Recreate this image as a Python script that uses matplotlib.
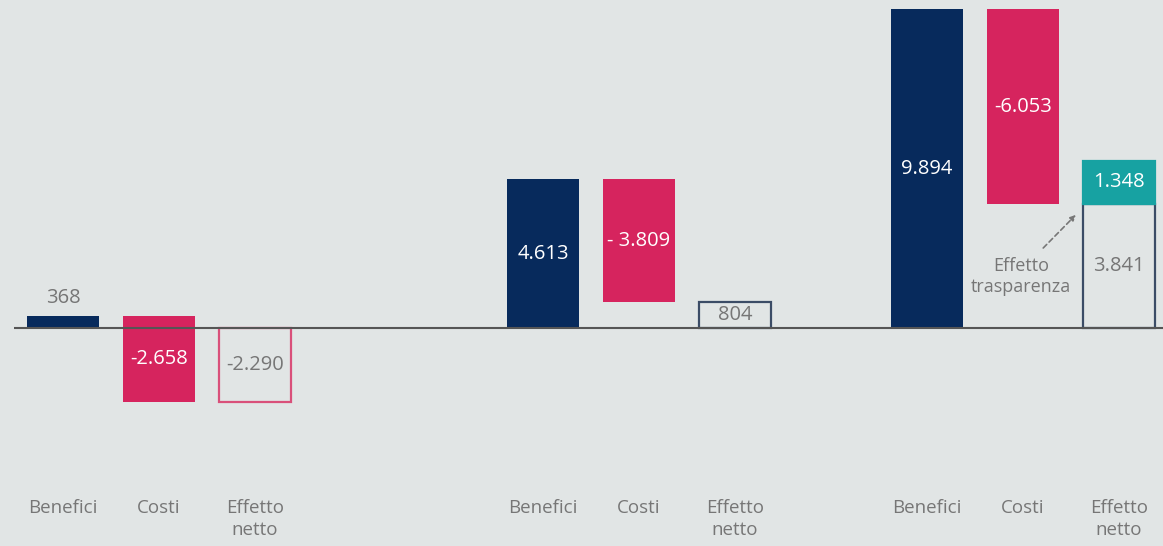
import matplotlib
matplotlib.use("Agg")
import matplotlib.pyplot as plt

plt.rcParams['font.family'] = ['Open Sans', 'DejaVu Sans']

# ---- data ----
groups = ["Gruppo 1", "Gruppo 2", "Gruppo 3"]
benefici = [368, 4613, 9894]
costi = [-2658, -3809, -6053]
effetto_trasparenza = [0, 0, 1348]
cost_labels = ["-2.658", "- 3.809", "-6.053"]
ben_labels = ["368", "4.613", "9.894"]
net_labels = ["-2.290", "804", "3.841"]
trasp_labels = ["", "", "1.348"]
cat_labels = ["Benefici", "Costi", "Effetto\nnetto"]
group_start = [0, 5, 9]

BG = "#e1e5e5"
NAVY = "#072a5c"
PINK = "#d6245e"
TEAL = "#17a2a2"
GRAY = "#767676"
W = 0.75
VFS = 14.5

fig = plt.figure(figsize=(11.63, 5.46), dpi=100, facecolor=BG)
ax = fig.add_axes([0, 0, 1, 1], facecolor=BG)
ax.set_xlim(-0.656, 11.458)
ax.set_ylim(-6762, 10174)
ax.axis("off")

for g in range(3):
    x0 = group_start[g]
    b = benefici[g]
    c = costi[g]
    net = b + c
    # Benefici
    ax.bar(x0, b, width=W, color=NAVY, zorder=2)
    # Costi (floating)
    ax.bar(x0 + 1, c, bottom=b, width=W, color=PINK, zorder=2)
    # Effetto netto (outline)
    ec = "#d9507a" if net < 0 else "#3b4c66"
    ax.bar(x0 + 2, net, width=W, facecolor="none", edgecolor=ec, linewidth=1.6, zorder=2)
    if effetto_trasparenza[g]:
        ax.bar(x0 + 2, effetto_trasparenza[g], bottom=net, width=W, color=TEAL,
               edgecolor=TEAL, linewidth=1.6, zorder=3)
        ax.text(x0 + 2, net + effetto_trasparenza[g] / 2, trasp_labels[g], color="white",
                ha="center", va="center", fontsize=VFS, fontweight="medium", zorder=4)

    # labels
    if b < 1000:
        ax.text(x0, b + 250, ben_labels[g], color=GRAY, ha="center", va="bottom", fontsize=VFS)
    else:
        ax.text(x0, b / 2, ben_labels[g], color="white", ha="center", va="center",
                fontsize=VFS, fontweight="medium")
    ax.text(x0 + 1, b + c / 2, cost_labels[g], color="white", ha="center", va="center",
            fontsize=VFS, fontweight="medium")
    ax.text(x0 + 2, net / 2, net_labels[g], color=GRAY, ha="center", va="center", fontsize=VFS)

    for k, lab in enumerate(cat_labels):
        ax.text(x0 + k, -5300, lab, color=GRAY, ha="center", va="top", fontsize=13.5,
                linespacing=1.3)

# baseline
ax.plot([-0.51, 11.458], [0, 0], color="#555555", linewidth=1.5, zorder=5,
        solid_capstyle="butt")

# arrow and annotation
ax.annotate("", xy=(10.57, 3570), xytext=(10.19, 2420),
            arrowprops=dict(arrowstyle="-|>", linestyle=(0, (3, 2)), color="#777777",
                            lw=1.2, mutation_scale=8))
ax.text(9.98, 1600, "Effetto\ntrasparenza", color=GRAY, ha="center", va="center",
        fontsize=13, linespacing=1.2)

fig.savefig("out.png", dpi=100, facecolor=BG)
